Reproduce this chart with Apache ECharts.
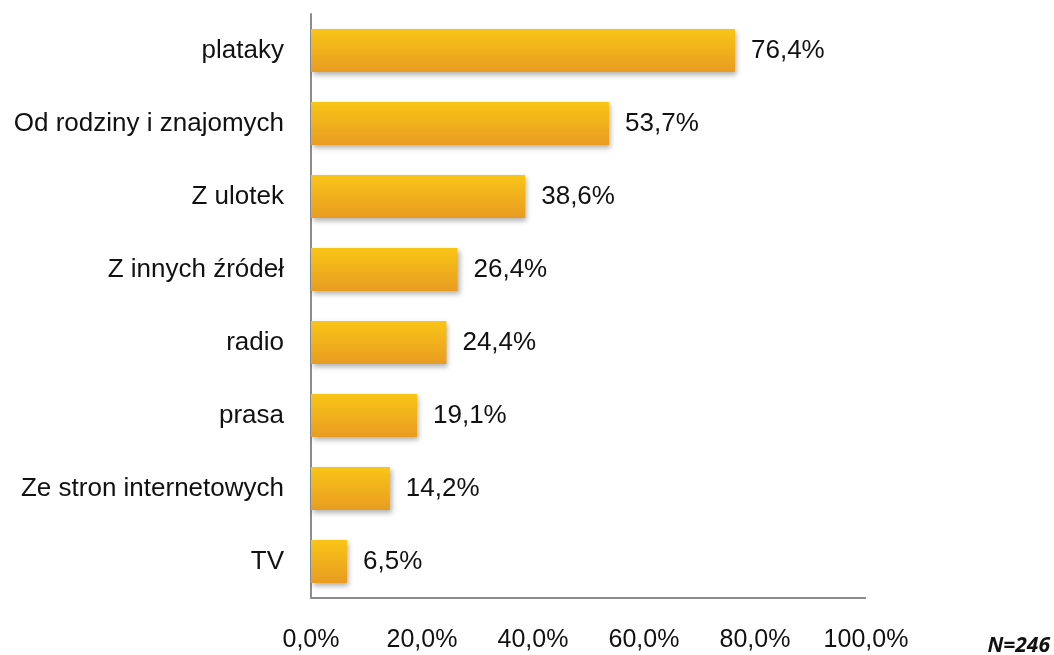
<!DOCTYPE html>
<html>
<head>
<meta charset="utf-8">
<script src="https://cdn.jsdelivr.net/npm/echarts@6/dist/echarts.min.js"></script>
<style>
    html, body { margin: 0; padding: 0; background: #fff; }
    #myChart { width: 1054px; height: 655px; }
</style>
</head>
<body>
<div id="myChart"></div>
<script>
    // kategorie od góry do dołu
    const categories = ['plataky', 'Od rodziny i znajomych', 'Z ulotek', 'Z innych źródeł', 'radio', 'prasa', 'Ze stron internetowych', 'TV']
    const values = [76.4, 53.7, 38.6, 26.4, 24.4, 19.1, 14.2, 6.5]
    const sampleNote = 'N=246'

    const FONT = "'Liberation Sans', Arial, sans-serif"

    let myChart = echarts.init(document.getElementById('myChart'))

    const fmt = v => v.toFixed(1).replace('.', ',') + '%'

    myChart.setOption({
        animation: false,
        textStyle: { fontFamily: FONT },
        grid: { left: 311, right: 188, top: 14, bottom: 57 },
        xAxis: {
            type: 'value',
            min: 0,
            max: 100,
            interval: 20,
            axisLine: { show: false },
            axisTick: { show: false },
            splitLine: { show: false },
            axisLabel: {
                margin: 30,
                fontSize: 25,
                fontFamily: FONT,
                color: '#111',
                formatter: v => fmt(v)
            }
        },
        yAxis: {
            type: 'category',
            inverse: true,
            data: categories,
            axisLine: { show: true, lineStyle: { color: '#8c8c8c', width: 2 } },
            axisTick: { show: false },
            axisLabel: { margin: 27, fontSize: 26, fontFamily: FONT, color: '#111' }
        },
        graphic: [
            {   // dolna linia osi
                type: 'line',
                shape: { x1: 311, y1: 598, x2: 866, y2: 598 },
                style: { stroke: '#8c8c8c', lineWidth: 2 }
            },
            {
                type: 'text',
                right: 4,
                top: 636,
                style: {
                    text: sampleNote,
                    font: "italic bold 21px 'Open Sans', sans-serif",
                    fill: '#111'
                }
            }
        ],
        series: [{
            type: 'bar',
            data: values,
            barWidth: 43,
            itemStyle: {
                color: new echarts.graphic.LinearGradient(0, 0, 0, 1, [
                    { offset: 0, color: '#f9c516' },
                    { offset: 1, color: '#e89c22' }
                ]),
                shadowColor: 'rgba(0,0,0,0.3)',
                shadowBlur: 5,
                shadowOffsetX: 2,
                shadowOffsetY: 3
            },
            label: {
                show: true,
                position: 'right',
                distance: 16,
                fontSize: 26,
                fontFamily: FONT,
                color: '#111',
                formatter: p => fmt(p.value)
            }
        }]
    })
</script>
</body>
</html>
